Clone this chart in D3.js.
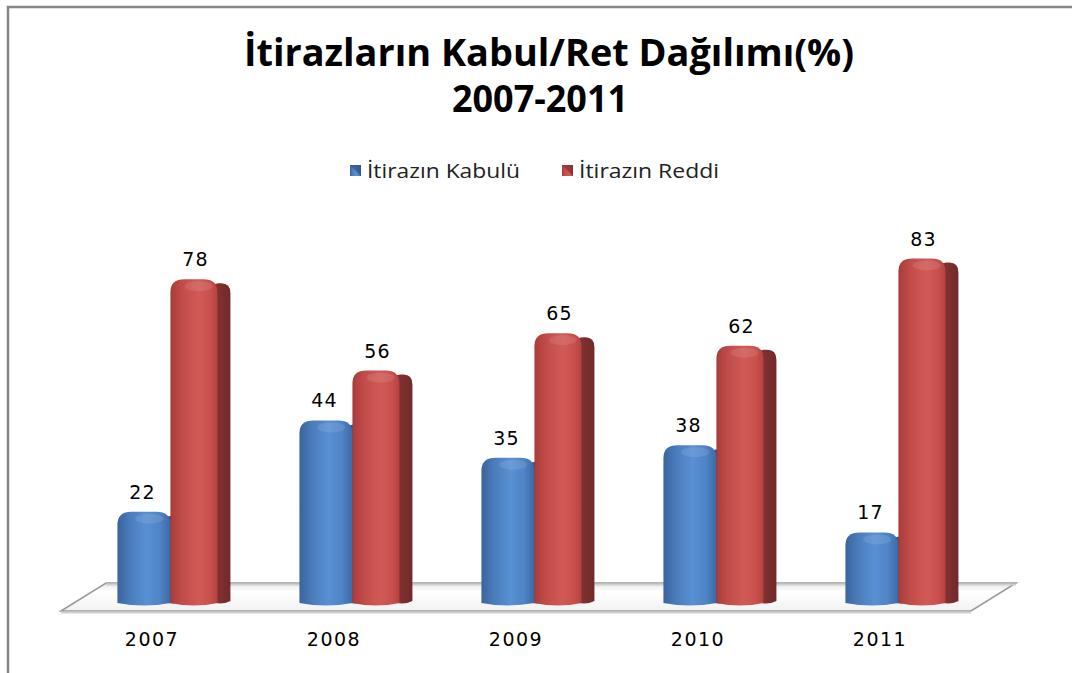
<!DOCTYPE html>
<html>
<head>
<meta charset="utf-8">
<script src="https://cdn.jsdelivr.net/npm/d3@7"></script>
<style>
  body { margin: 0; background: #fff; }
  svg { display: block; }
</style>
</head>
<body>
<div id="chart"></div>
<script>
// data
let years = ['2007', '2008', '2009', '2010', '2011'];
let series = ['İtirazın Kabulü', 'İtirazın Reddi'];
let kabul = [22, 44, 35, 38, 17];
let red = [78, 56, 65, 62, 83];
let titleLines = ['İtirazların Kabul/Ret Dağılımı(%)', '2007-2011'];

let W = 1072, H = 673;
let svg = d3.select('#chart').append('svg')
	.attr('width', W)
	.attr('height', H);

let defs = svg.append('defs');
let grad = (id, stops) => {
	let g = defs.append('linearGradient').attr('id', id)
		.attr('x1', '0%').attr('x2', '100%').attr('y1', '0%').attr('y2', '0%');
	stops.forEach(s => g.append('stop').attr('offset', s[0]).attr('stop-color', s[1]));
};
grad('blueBody', [['0%', '#3a649c'], ['25%', '#4b7dbd'], ['55%', '#5890d3'], ['80%', '#4f84c6'], ['100%', '#3d69a5']]);
grad('blueSide', [['0%', '#31568a'], ['100%', '#294a78']]);
grad('redBody', [['0%', '#a83c3a'], ['25%', '#c24c49'], ['60%', '#d15a57'], ['85%', '#c84f4c'], ['100%', '#b5423f']]);
grad('redSide', [['0%', '#8a3533'], ['100%', '#72292a']]);
let fv = defs.append('linearGradient').attr('id', 'floor')
	.attr('x1', '0%').attr('x2', '0%').attr('y1', '0%').attr('y2', '100%');
fv.append('stop').attr('offset', '0%').attr('stop-color', '#e4e4e4');
fv.append('stop').attr('offset', '30%').attr('stop-color', '#ffffff');
fv.append('stop').attr('offset', '100%').attr('stop-color', '#f2f2f2');

// outer frame (partly cut off)
svg.append('path')
	.attr('d', 'M8,' + (H + 5) + ' L8,7 L' + (W + 5) + ',7')
	.attr('fill', 'none')
	.attr('stroke', '#878787')
	.attr('stroke-width', 2.5);

// title
let title = svg.append('text')
	.attr('text-anchor', 'middle')
	.attr('font-family', '"Open Sans", "Noto Sans", sans-serif')
	.attr('font-weight', 'bold')
	.attr('font-size', 37)
	.attr('fill', '#000');
title.append('tspan').attr('x', 549).attr('y', 66)
	.attr('textLength', 610).attr('lengthAdjust', 'spacingAndGlyphs')
	.text(titleLines[0]);
title.append('tspan').attr('x', 540).attr('y', 112)
	.attr('textLength', 176).attr('lengthAdjust', 'spacingAndGlyphs')
	.text(titleLines[1]);

// scales
let x = d3.scaleBand().domain(years).range([61, 971]);
let y = d3.scaleLinear().domain([0, 100]).range([603, 188]);
let bw = x.bandwidth();
let xs = d3.scaleBand().domain(series).range([bw * 0.31, bw * 0.31 + 106]);

// floor
let depth = 45, fy0 = 611, fy1 = 583;
let r0 = x.range()[0], r1 = x.range()[1];
svg.append('path')
	.attr('d', 'M' + r0 + ',' + fy0 + ' L' + (r0 + depth) + ',' + fy1 + ' L' + (r1 + depth) + ',' + fy1 + ' L' + r1 + ',' + fy0 + ' Z')
	.attr('fill', 'url(#floor)')
	.attr('stroke', '#9a9a9a')
	.attr('stroke-width', 1.5);
svg.append('line')
	.attr('x1', r0).attr('x2', r1).attr('y1', fy0 + 1.5).attr('y2', fy0 + 1.5)
	.attr('stroke', '#cfcfcf').attr('stroke-width', 2);
svg.append('line')
	.attr('x1', r0 + depth).attr('x2', r1 + depth).attr('y1', fy1 + 1.5).attr('y2', fy1 + 1.5)
	.attr('stroke', '#cfcfcf').attr('stroke-width', 2);

let bodyW = [53, 47], sideW = 13;
let barPath = (x0, w, top, bottom, rx, ry) => {
	return 'M' + x0 + ',' + bottom +
		' L' + x0 + ',' + (top + ry) +
		' Q' + x0 + ',' + top + ' ' + (x0 + rx) + ',' + top +
		' L' + (x0 + w - rx) + ',' + top +
		' Q' + (x0 + w) + ',' + top + ' ' + (x0 + w) + ',' + (top + ry) +
		' L' + (x0 + w) + ',' + bottom +
		' Q' + (x0 + w / 2) + ',' + (bottom + 5) + ' ' + x0 + ',' + bottom + ' Z';
};

let rows = years.map((yr, i) => ({ year: yr, values: [kabul[i], red[i]] }));
let fills = [['blueBody', 'blueSide'], ['redBody', 'redSide']];

let groups = svg.selectAll('g.year')
	.data(rows)
	.enter()
	.append('g')
	.attr('class', 'year')
	.attr('transform', d => 'translate(' + x(d.year) + ',0)');

groups.each(function(d) {
	let g = d3.select(this);
	d.values.forEach((v, k) => {
		let x0 = xs(series[k]);
		let w = bodyW[k];
		let top = y(v), bottom = y(0);
		// dark side
		g.append('path')
			.attr('d', barPath(x0 + w - 8, sideW + 8, top + 4, bottom - 2, 9, 10))
			.attr('fill', 'url(#' + fills[k][1] + ')');
		// front body
		g.append('path')
			.attr('d', barPath(x0, w, top, bottom, 14, 13))
			.attr('fill', 'url(#' + fills[k][0] + ')');
		// cap highlight
		g.append('ellipse')
			.attr('cx', x0 + w * 0.6).attr('cy', top + 7)
			.attr('rx', 14).attr('ry', 5)
			.attr('fill', '#fff').attr('opacity', 0.1);
		// value label
		g.append('text')
			.attr('x', x0 + 25)
			.attr('y', top - 13)
			.attr('text-anchor', 'middle')
			.attr('font-family', '"DejaVu Sans", Verdana, sans-serif')
			.attr('font-size', 19)
			.attr('letter-spacing', 1)
			.attr('fill', '#000')
			.text(v);
	});
});

// category labels
svg.selectAll('text.cat')
	.data(years)
	.enter()
	.append('text')
	.attr('class', 'cat')
	.attr('x', d => x(d) + bw / 2)
	.attr('y', 646)
	.attr('text-anchor', 'middle')
	.attr('font-family', '"DejaVu Sans", Verdana, sans-serif')
	.attr('font-size', 19)
	.attr('letter-spacing', 1.5)
	.attr('fill', '#000')
	.text(d => d);

// legend
let legend = svg.append('g');
let legX = [350, 562];
let legLen = [153, 140];
series.forEach((s, k) => {
	legend.append('rect')
		.attr('x', legX[k]).attr('y', 165).attr('width', 11).attr('height', 11)
		.attr('fill', 'url(#' + fills[k][0] + ')');
	legend.append('path')
		.attr('d', 'M' + legX[k] + ',165 L' + (legX[k] + 11) + ',165 L' + (legX[k] + 11) + ',176 Z')
		.attr('fill', 'url(#' + fills[k][1] + ')')
		.attr('opacity', 0.7);
	legend.append('text')
		.attr('x', legX[k] + 17).attr('y', 178)
		.attr('font-family', '"Open Sans", "Noto Sans", sans-serif')
		.attr('font-size', 20)
		.attr('textLength', legLen[k])
		.attr('lengthAdjust', 'spacingAndGlyphs')
		.attr('fill', '#222')
		.text(s);
});
</script>
</body>
</html>
